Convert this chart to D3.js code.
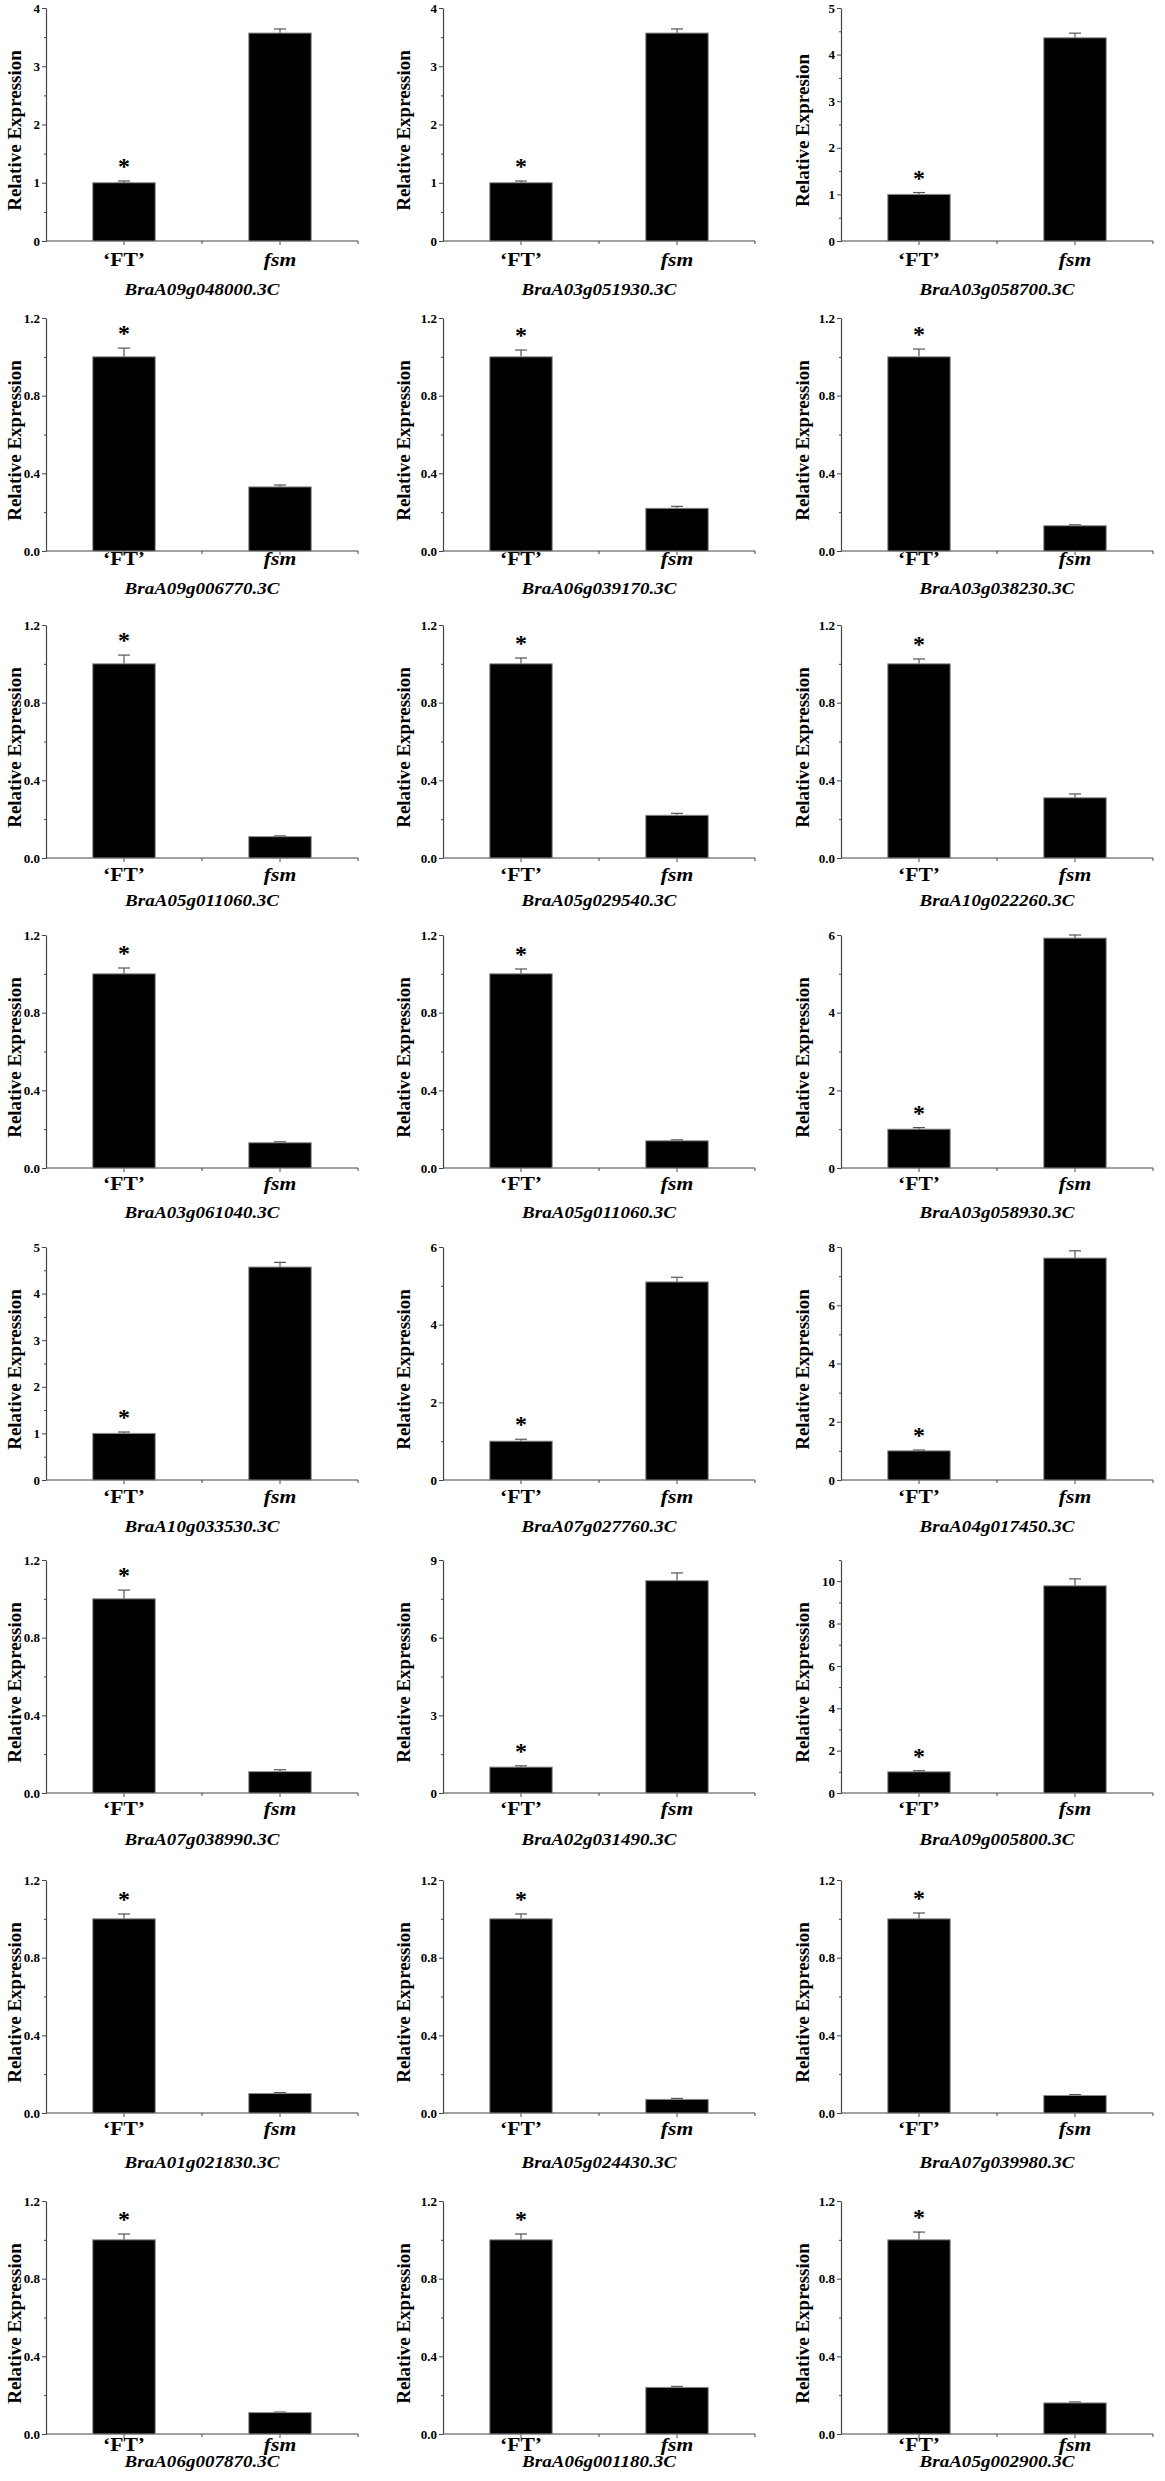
<!DOCTYPE html>
<html>
<head>
<meta charset="utf-8">
<script src="https://cdn.jsdelivr.net/npm/d3@7"></script>
<style>
  body { margin: 0; background: #fff; }
  text { font-family: "Liberation Serif", "Times New Roman", Times, serif; font-weight: bold; }
</style>
</head>
<body>
<div id="chart"></div>
<script>
// panel data, row by row (3 panels per row)
const genes = [
    "BraA09g048000.3C", "BraA03g051930.3C", "BraA03g058700.3C",
    "BraA09g006770.3C", "BraA06g039170.3C", "BraA03g038230.3C",
    "BraA05g011060.3C", "BraA05g029540.3C", "BraA10g022260.3C",
    "BraA03g061040.3C", "BraA05g011060.3C", "BraA03g058930.3C",
    "BraA10g033530.3C", "BraA07g027760.3C", "BraA04g017450.3C",
    "BraA07g038990.3C", "BraA02g031490.3C", "BraA09g005800.3C",
    "BraA01g021830.3C", "BraA05g024430.3C", "BraA07g039980.3C",
    "BraA06g007870.3C", "BraA06g001180.3C", "BraA05g002900.3C"
];
const categories = ["\u2018FT\u2019", "fsm"];
const yLabels = [
    "Relative Expression", "Relative Expression", "Relative Expresion",
    "Relative Expression", "Relative Expression", "Relative Expression",
    "Relative Expression", "Relative Expression", "Relative Expression",
    "Relative Expression", "Relative Expression", "Relative Expression",
    "Relative Expression", "Relative Expression", "Relative Expression",
    "Relative Expression", "Relative Expression", "Relative Expression",
    "Relative Expression", "Relative Expression", "Relative Expression",
    "Relative Expression", "Relative Expression", "Relative Expression"
];
const ftValues = [1, 1, 1, 1, 1, 1, 1, 1, 1, 1, 1, 1, 1, 1, 1, 1, 1, 1, 1, 1, 1, 1, 1, 1];
const ftErrors = [0.03, 0.03, 0.04, 0.045, 0.035, 0.04, 0.045, 0.03, 0.025, 0.03, 0.025, 0.04,
                  0.03, 0.05, 0.03, 0.045, 0.05, 0.05, 0.025, 0.025, 0.03, 0.03, 0.03, 0.04];
const fsmValues = [3.57, 3.57, 4.36, 0.33, 0.22, 0.13, 0.11, 0.22, 0.31, 0.13, 0.14, 5.92,
                   4.57, 5.1, 7.62, 0.11, 8.2, 9.78, 0.1, 0.07, 0.09, 0.11, 0.24, 0.16];
const fsmErrors = [0.07, 0.07, 0.1, 0.01, 0.01, 0.005, 0.004, 0.01, 0.02, 0.005, 0.005, 0.08,
                   0.1, 0.12, 0.25, 0.01, 0.3, 0.33, 0.005, 0.005, 0.005, 0.003, 0.005, 0.005];
const yMax = [4, 4, 5, 1.2, 1.2, 1.2, 1.2, 1.2, 1.2, 1.2, 1.2, 6,
              5, 6, 8, 1.2, 9, 11, 1.2, 1.2, 1.2, 1.2, 1.2, 1.2];
const yStep = [1, 1, 1, 0.4, 0.4, 0.4, 0.4, 0.4, 0.4, 0.4, 0.4, 2,
               1, 2, 2, 0.4, 3, 2, 0.4, 0.4, 0.4, 0.4, 0.4, 0.4];

// layout
const width = 1165, height = 2481;
const colLeft = [46, 443, 841];
const rowTop = [8, 318, 625, 935, 1247, 1560, 1880, 2201];
const catGap = [25, 14, 23, 22, 23, 22, 22, 17];
const geneGap = [54, 43, 48, 50, 52, 52, 55, 33];
const labelOffset = [32, 40, 39];
const plotW = 312, plotH = 233;

const svg = d3.select("#chart").append("svg")
    .attr("width", width)
    .attr("height", height);

genes.forEach((gene, i) => {
    const row = Math.floor(i / 3), col = i % 3;
    const g = svg.append("g")
        .attr("transform", `translate(${colLeft[col]},${rowTop[row]})`);

    const x = d3.scaleBand().domain(categories).range([0, plotW]).padding(0);
    const y = d3.scaleLinear().domain([0, yMax[i]]).range([plotH, 0]);
    const step = yStep[i];
    const major = d3.range(0, yMax[i] + 1e-9, step);
    const minor = d3.range(step / 2, yMax[i] + 1e-9, step)
    const fmt = step < 1 ? d3.format(".1f") : d3.format("d");

    // minor y ticks
    g.append("g")
        .call(d3.axisLeft(y).tickValues(minor).tickSize(2).tickFormat(""))
        .call(a => a.select(".domain").remove())
        .call(a => a.selectAll("line").attr("stroke", "#444"));

    const yAxis = g.append("g")
        .call(d3.axisLeft(y).tickValues(major).tickSize(4).tickSizeOuter(0).tickFormat(fmt).tickPadding(2));
    yAxis.attr("font-family", null).attr("font-size", null);
    yAxis.select(".domain").attr("stroke", "#444").attr("stroke-width", 1.2);
    yAxis.selectAll("line").attr("stroke", "#444");
    yAxis.selectAll("text")
        .style("font-size", "13px")
        .attr("fill", "#000");

    // x axis
    g.append("line")
        .attr("x1", 0).attr("x2", plotW)
        .attr("y1", y(0)).attr("y2", y(0))
        .attr("stroke", "#444").attr("stroke-width", 1.2);
    categories.forEach(c => {
        const cx = x(c) + x.bandwidth() / 2;
        g.append("line")
            .attr("x1", cx).attr("x2", cx)
            .attr("y1", y(0)).attr("y2", y(0) + 4)
            .attr("stroke", "#444");
        g.append("line")
            .attr("x1", x(c) + x.bandwidth()).attr("x2", x(c) + x.bandwidth())
            .attr("y1", y(0)).attr("y2", y(0) + 3)
            .attr("stroke", "#444");
    });

    const vals = [ftValues[i], fsmValues[i]];
    const errs = [ftErrors[i], fsmErrors[i]];
    const bw = x.bandwidth() * 0.4;

    // error bars
    categories.forEach((c, k) => {
        const cx = x(c) + x.bandwidth() / 2;
        const top = y(vals[k] + errs[k]);
        g.append("line")
            .attr("x1", cx).attr("x2", cx)
            .attr("y1", y(vals[k])).attr("y2", top)
            .attr("stroke", "#555").attr("stroke-width", 1.2);
        g.append("line")
            .attr("x1", cx - 6).attr("x2", cx + 6)
            .attr("y1", top).attr("y2", top)
            .attr("stroke", "#555").attr("stroke-width", 1.2);
    });

    g.selectAll("rect.bar")
        .data(vals)
        .enter()
        .append("rect")
        .attr("class", "bar")
        .attr("x", (d, k) => x(categories[k]) + (x.bandwidth() - bw) / 2)
        .attr("width", bw)
        .attr("y", d => y(d))
        .attr("height", d => y(0) - y(d))
        .attr("fill", "#000")
        .attr("stroke", "#8a8a8a")
        .attr("stroke-width", 1);

    // significance star above 'FT'
    g.append("text")
        .attr("x", x(categories[0]) + x.bandwidth() / 2)
        .attr("y", y(ftValues[i] + ftErrors[i]) - 7)
        .attr("text-anchor", "middle")
        .style("font-size", "24px")
        .text("*");

    // category labels
    categories.forEach((c, k) => {
        g.append("text")
            .attr("transform", `translate(${x(c) + x.bandwidth() / 2},${y(0) + catGap[row]}) scale(1.2,1)`)
            .attr("text-anchor", "middle")
            .style("font-size", "18px")
            .style("font-style", k === 1 ? "italic" : "normal")
            .text(c);
    });

    // gene name
    g.append("text")
        .attr("transform", `translate(${plotW / 2},${y(0) + geneGap[row]}) scale(1.12,1)`)
        .attr("text-anchor", "middle")
        .style("font-size", "17px")
        .style("font-style", "italic")
        .text(gene);

    // y label
    g.append("text")
        .attr("transform", `translate(${-labelOffset[col]},${plotH / 2 + 6}) rotate(-90)`)
        .attr("text-anchor", "middle")
        .attr("dy", "0.35em")
        .style("font-size", "19px")
        .text(yLabels[i]);
});
</script>
</body>
</html>
